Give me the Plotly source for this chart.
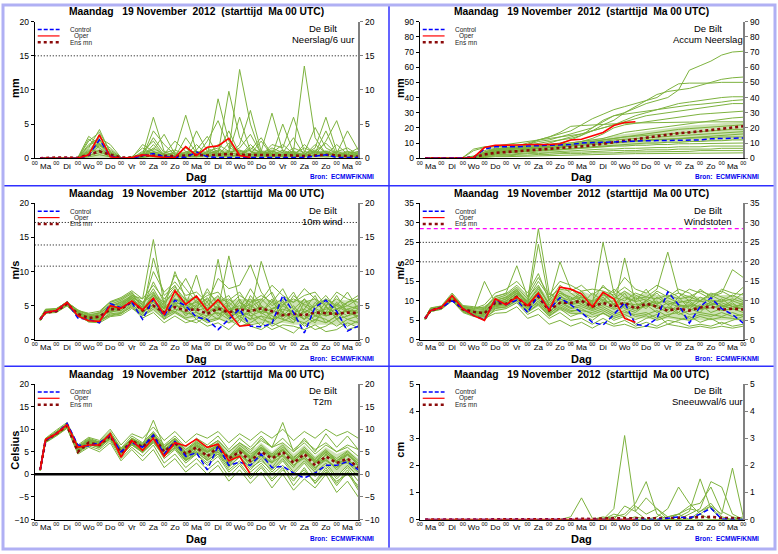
import plotly.graph_objects as go

W, H = 778, 554
FONT = "Liberation Sans, Arial, sans-serif"

# ---------------- time axis (hours after Ma 19 Nov 2012 00 UTC) ----------------
T = [6, 12, 24, 36, 48, 60, 72, 84, 96, 108, 120, 132, 144, 156, 168, 180, 192, 204, 216,
     228, 240, 252, 264, 276, 288, 300, 312, 324, 336, 348, 360]
T_OPER = [6, 12, 24, 36, 48, 60, 72, 84, 96, 108, 120, 132, 144, 156, 168, 180, 192, 204, 216, 228, 240]
DAY_TICKS = [12, 36, 60, 84, 108, 132, 156, 180, 204, 228, 252, 276, 300, 324, 348]
DAY_LABELS = ["Ma", "Di", "Wo", "Do", "Vr", "Za", "Zo", "Ma", "Di", "Wo", "Do", "Vr", "Za", "Zo", "Ma"]
HOUR_TICKS = [0, 24, 48, 72, 96, 120, 144, 168, 192, 216, 240, 264, 288, 312, 336, 360]
HOUR_LABELS = ["00"] * 16
TITLE = "Maandag&#160;&#160; 19 November&#160; 2012&#160; (starttijd&#160; Ma 00 UTC)"

# ---------------- Neerslag / 6 uur (mm) ----------------
PR6_CTRL = [0, 0, 0.05, 0.05, 0, 0.4, 2.7, 0.3, 0, 0, 0.3, 0.7, 0.2, 0.1, 0.1, 0.9, 0.2, 0.1, 0.1,
            0.1, 0.1, 0, 0.1, 0.1, 0.1, 0.1, 0.3, 0.5, 0.1, 0.1, 0.1]
PR6_OPER = [0, 0, 0, 0, 0, 0.5, 3.4, 0.2, 0, 0.1, 0.5, 0.3, 0.1, 0.1, 1.7, 0.4, 1.6, 1.8, 2.9, 0.4, 0.1]
PR6_MEAN = [0, 0.05, 0.1, 0.1, 0.05, 0.5, 1.0, 0.5, 0.1, 0.1, 0.4, 0.4, 0.3, 0.3, 0.4, 0.5, 0.4,
            0.5, 0.6, 0.5, 0.5, 0.5, 0.5, 0.4, 0.4, 0.3, 0.4, 0.5, 0.4, 0.3, 0.2]
PR6_CORE_LO = [0] * 31
PR6_CORE_HI = [0, 0, 0.1, 0.1, 0.1, 1.5, 2.8, 1.0, 0.1, 0.1, 0.8, 1.5, 0.8, 0.8, 1.0, 1.0, 1.0, 1.2,
               1.2, 1.2, 1.2, 1.2, 1.0, 1.0, 1.0, 1.0, 1.0, 1.2, 1.0, 1.0, 0.8]
PR6_MEMBERS = [
    [0, 0, 0.1, 0, 0.1, 3.2, 2.0, 0.3, 0, 0, 1.0, 2.5, 0.4, 0.2, 1.5, 0.3, 0.5, 2.0, 1.0, 13.0, 5.0, 0.5, 1.2, 0.3, 0.8, 0.4, 1.0, 2.2, 0.6, 0.3, 0.5],
    [0, 0, 0, 0.1, 0, 2.5, 3.8, 1.0, 0, 0.1, 0.5, 6.0, 1.0, 0.3, 0.4, 0.2, 1.0, 0.6, 9.8, 3.0, 1.0, 0.3, 0.8, 2.0, 0.6, 1.5, 0.8, 1.0, 0.4, 1.0, 0.6],
    [0, 0.1, 0.1, 0, 0, 1.5, 4.2, 0.8, 0, 0, 2.0, 1.0, 0.3, 1.0, 6.3, 1.0, 0.4, 8.7, 2.5, 0.5, 1.5, 0.8, 0.3, 0.5, 1.0, 13.5, 3.0, 0.6, 0.3, 0.4, 0.2],
    [0, 0, 0, 0, 0, 2.0, 3.0, 2.0, 0.1, 0, 0.3, 4.0, 2.0, 0.5, 0.2, 4.0, 1.0, 1.5, 0.4, 2.0, 7.0, 1.0, 6.6, 1.0, 0.3, 0.6, 1.5, 6.0, 1.0, 0.5, 1.0],
    [0, 0, 0.1, 0, 0, 0.8, 2.5, 1.5, 0, 0, 0.4, 3.0, 0.8, 1.2, 0.5, 0.3, 2.5, 5.5, 1.5, 1.0, 0.6, 0.4, 2.0, 1.5, 6.0, 1.0, 0.5, 2.5, 5.5, 1.0, 0.3],
    [0, 0, 0, 0, 0.1, 1.0, 2.2, 0.5, 0, 0.2, 1.5, 0.6, 0.2, 0.4, 0.9, 1.0, 0.6, 1.0, 4.0, 0.6, 1.2, 3.0, 0.5, 0.4, 1.5, 0.8, 4.5, 1.5, 0.7, 4.0, 1.2],
    [0, 0, 0, 0.1, 0, 0.5, 1.8, 1.2, 0.1, 0, 0.2, 1.5, 0.5, 0.1, 3.0, 0.8, 0.2, 0.5, 0.8, 6.0, 1.0, 0.5, 0.4, 5.0, 0.8, 0.3, 1.0, 0.5, 2.0, 0.6, 1.5],
    [0, 0, 0, 0, 0, 0.3, 1.2, 0.4, 0, 0, 0.3, 0.2, 0.1, 0.3, 0.2, 1.2, 3.2, 0.4, 2.2, 0.4, 0.5, 1.0, 0.6, 0.3, 0.4, 2.0, 0.6, 1.0, 0.5, 0.3, 0.8],
    [0, 0, 0.1, 0, 0, 1.8, 2.8, 0.6, 0, 0, 0.8, 1.2, 3.5, 0.6, 0.3, 0.5, 0.8, 0.3, 0.6, 1.5, 3.5, 0.6, 1.5, 0.8, 3.0, 0.4, 0.8, 4.0, 0.5, 0.2, 0.4],
    [0, 0, 0, 0, 0, 0.6, 3.5, 0.3, 0, 0, 0.1, 0.4, 0.6, 2.5, 1.0, 0.4, 0.3, 0.8, 0.3, 0.5, 0.6, 2.5, 0.4, 1.2, 0.5, 0.6, 1.2, 0.4, 1.0, 1.5, 0.5],
    [0, 0, 0, 0, 0, 1.2, 1.0, 0.2, 0, 0.1, 0.6, 0.8, 0.2, 0.2, 0.6, 0.6, 1.5, 0.6, 1.0, 0.3, 0.4, 0.6, 1.0, 0.5, 0.6, 0.3, 0.5, 0.8, 0.4, 0.6, 0.3],
    [0, 0, 0, 0, 0, 0.4, 0.8, 0.6, 0, 0, 0.3, 0.5, 0.4, 0.8, 0.4, 2.0, 0.5, 0.4, 0.6, 0.8, 0.3, 0.4, 0.6, 0.8, 0.3, 0.5, 0.3, 0.6, 0.8, 0.4, 0.6],
    [0, 0, 0, 0, 0, 0.2, 0.5, 0.2, 0, 0, 0.1, 0.3, 0.2, 0.2, 0.3, 0.2, 0.4, 0.3, 0.2, 0.4, 0.2, 0.3, 0.2, 0.4, 0.2, 0.3, 0.4, 0.2, 0.3, 0.2, 0.2],
    [0, 0, 0, 0, 0, 2.8, 1.5, 0.4, 0, 0, 0.2, 2.0, 0.3, 0.1, 0.8, 0.4, 0.6, 1.2, 0.5, 0.3, 2.0, 0.5, 0.3, 0.6, 1.0, 0.4, 2.0, 0.8, 0.3, 0.5, 0.4],
    [0, 0, 0, 0, 0, 0.9, 2.0, 0.8, 0.1, 0, 0.6, 0.9, 0.6, 0.4, 0.6, 0.8, 0.3, 0.6, 0.9, 1.2, 0.5, 0.8, 0.6, 0.2, 0.8, 0.6, 0.3, 0.6, 0.4, 0.8, 0.9],
]
PR6_THRESH = [15]

# ---------------- Accum Neerslag (mm) ----------------
ACC_CTRL = [0, 0, 0, 0, 0, 0.4, 6.0, 7.5, 7.5, 7.5, 8, 8.2, 8.5, 8.7, 9, 10, 10.3, 10.5, 10.8, 11,
            11.2, 11.5, 11.6, 11.7, 11.8, 11.9, 12, 12.8, 13, 13.2, 13.3]
ACC_OPER = [0, 0, 0, 0, 0, 0.5, 7.0, 8.5, 8.5, 8.7, 9, 9, 9, 9.5, 12, 12.5, 15, 17, 21.5, 23.5, 24]
ACC_MEAN = [0, 0, 0, 0, 0, 0.5, 2.5, 3.5, 4, 4.3, 5, 5.5, 6, 6.5, 7, 7.8, 8.5, 9.5, 10.5, 11.5,
            12.5, 13.5, 14.5, 15.5, 16.5, 17, 17.8, 18.5, 19.5, 20.3, 21]
ACC_CORE_LO = [0, 0, 0, 0, 0, 0.2, 1.5, 2.5, 3, 3.2, 3.5, 4, 4.5, 5, 5.5, 6, 6.5, 7, 7.5, 8, 8.5, 9,
               9.5, 10, 10, 10.5, 11, 11, 11.5, 12, 12]
ACC_CORE_HI = [0, 0, 0, 0, 0, 1, 4, 6, 6.5, 7, 7.5, 8, 8.5, 9.5, 10.5, 11.5, 12.5, 13.5, 15, 16, 17,
               18, 19, 20, 21, 21.5, 22, 22.5, 23, 23.5, 24]
ACC_MEMBERS = [
    [0, 0, 0, 0, 0, 1.5, 5, 6.5, 7, 7.5, 8.5, 10, 11, 12, 13, 15, 18, 22, 25, 30, 33, 36, 38, 40, 45, 58, 61, 64, 68, 70, 70.5],
    [0, 0, 0, 0, 0, 0.5, 3, 5, 6, 7, 9, 11, 12, 14, 16, 18, 20, 24, 28, 30, 34, 38, 42, 44, 45, 46, 48, 50, 52, 53, 53.5],
    [0, 0, 0, 0, 0, 1, 4, 6, 7, 8, 10, 12, 14, 16, 18, 22, 26, 29, 32, 34, 36, 38, 40, 45, 49, 49.5, 49.5, 49.5, 50, 50, 50],
    [0, 0, 0, 0, 0.5, 6, 7.5, 8, 9, 10, 11, 12, 13, 14, 15, 16, 18, 20, 22, 25, 28, 30, 32, 34, 36, 37, 38, 39, 40, 40.5, 40.5],
    [0, 0, 0, 0, 0, 1, 3, 5, 5.5, 6, 7, 8, 9, 10, 12, 15, 20, 25, 28, 29, 30, 31, 32, 33, 34, 35, 35.5, 36, 37, 38, 38.5],
    [0, 0, 0, 0, 0, 0.5, 2, 4, 4.5, 5, 6, 8, 10, 12, 14, 16, 18, 20, 22, 24, 26, 28, 29, 30, 31, 32, 33, 34, 35, 36, 36],
    [0, 0, 0, 0, 0, 1, 4, 6, 6.5, 7, 8, 8.5, 9, 9.5, 10, 11, 13, 16, 20, 22, 23, 24, 25, 26, 27, 28, 29, 29.5, 30, 30.5, 31],
    [0, 0, 0, 0, 0, 0.5, 3, 5, 5.5, 6, 6.5, 7, 8, 9, 10, 11, 12, 13, 15, 17, 18, 19, 20, 21, 22, 23, 24, 25, 26, 26.5, 27],
    [0, 0, 0, 0, 0.3, 5, 7, 7.5, 8, 8.5, 9, 12, 14, 17, 21, 21.5, 22, 22.5, 23, 23, 23.2, 23.4, 23.5, 23.6, 23.7, 23.8, 23.9, 24, 24, 24, 24],
    [0, 0, 0, 0, 0, 0.5, 2.5, 4, 4.5, 5, 5.5, 6.5, 7, 8, 9, 10, 11, 12, 13, 14, 15, 16, 17, 18, 19, 19.5, 20, 20.5, 21, 21.5, 22],
    [0, 0, 0, 0, 0, 1, 3.5, 5.5, 6, 6.5, 7, 7.5, 8, 8.5, 9, 10, 11, 12, 13, 14, 14.5, 15, 15.5, 16, 16.5, 17, 17.5, 18, 18.5, 19, 19],
    [0, 0, 0, 0, 0, 0.3, 2, 3.5, 4, 4.5, 5, 5.5, 6, 7, 8, 9, 10, 11, 12, 12.5, 13, 13.5, 14, 14.5, 15, 15.5, 16, 16.5, 17, 17.5, 17.5],
    [0, 0, 0, 0, 0, 0.5, 3, 4.5, 5, 5.5, 6, 6.5, 7, 7.5, 8, 8.5, 9, 9.5, 10, 10.5, 11, 11.5, 12, 12.5, 13, 13.5, 14, 14.5, 15, 15.5, 16],
    [0, 0, 0, 0, 0, 1, 4, 6, 6, 6.5, 7, 7.5, 8, 8.5, 9, 9.5, 10, 10.5, 11, 11.5, 12, 12, 12.5, 12.5, 13, 13, 13.5, 13.5, 14, 14, 14],
    [0, 0, 0, 0, 0, 0.2, 1.5, 3, 3.5, 4, 4.5, 5, 5.5, 6, 6.5, 7, 7.5, 8, 8.5, 9, 9.5, 10, 10, 10.5, 10.5, 11, 11, 11.5, 11.5, 12, 12],
    [0, 0, 0, 0, 0, 0.5, 2, 3.5, 3.5, 4, 4.5, 5, 5, 5.5, 6, 6.5, 7, 7.5, 8, 8, 8.5, 8.5, 9, 9, 9.5, 9.5, 9.5, 10, 10, 10, 10],
    [0, 0, 0, 0, 0, 0.3, 1.5, 2.5, 2.5, 3, 3.5, 4, 4, 4.5, 5, 5, 5.5, 6, 6, 6.5, 6.5, 7, 7, 7, 7.5, 7.5, 7.5, 8, 8, 8, 8],
    [0, 0, 0, 0, 0, 0.2, 1, 2, 2, 2.5, 3, 3, 3.5, 3.5, 4, 4, 4.5, 4.5, 5, 5, 5, 5.5, 5.5, 5.5, 6, 6, 6, 6, 6.5, 6.5, 6.5],
    [0, 0, 0, 0, 0, 0.1, 0.8, 1.5, 1.5, 2, 2, 2.5, 2.5, 3, 3, 3, 3.5, 3.5, 3.5, 4, 4, 4, 4.5, 4.5, 4.5, 4.5, 5, 5, 5, 5, 5],
    [0, 0, 0, 0, 0, 0.1, 0.5, 1, 1, 1.2, 1.5, 1.5, 1.8, 2, 2, 2.2, 2.4, 2.5, 2.6, 2.8, 3, 3, 3.1, 3.2, 3.3, 3.3, 3.4, 3.4, 3.5, 3.5, 3.5],
]

# ---------------- 10m wind (m/s) ----------------
WND_CTRL = [3.0, 4.0, 4.3, 5.5, 3.2, 3.0, 2.5, 5.3, 4.7, 5.5, 3.0, 6.0, 3.5, 5.8, 5.0, 3.3, 3.0, 1.5, 3.0,
            4.5, 2.0, 1.9, 2.4, 6.5, 4.0, 1.0, 4.8, 5.8, 4.2, 1.3, 2.0]
WND_OPER = [3.0, 4.0, 4.3, 5.5, 3.5, 2.8, 2.7, 5.0, 4.6, 5.7, 4.4, 6.1, 3.7, 7.2, 5.2, 6.4, 4.3, 5.9, 4.0, 2.0, 2.2]
WND_MEAN = [3.0, 4.0, 4.2, 5.3, 3.8, 3.2, 3.4, 4.5, 4.5, 5.6, 4.3, 5.0, 4.0, 4.8, 4.3, 4.5, 3.8, 4.6, 4.0,
            4.5, 4.2, 4.6, 4.2, 3.6, 3.8, 3.6, 4.0, 3.9, 3.8, 4.0, 3.9]
WND_CORE_LO = [2.8, 3.9, 4.0, 5.0, 3.5, 2.7, 2.6, 3.6, 3.8, 4.8, 3.5, 4.2, 3.0, 3.8, 3.0, 3.2, 2.6, 3.0,
               2.4, 2.8, 2.4, 2.5, 2.2, 2.5, 2.2, 2.2, 2.3, 2.2, 2.3, 2.2, 2.2]
WND_CORE_HI = [3.2, 4.5, 4.6, 5.6, 4.3, 3.8, 4.2, 5.6, 6.2, 7.0, 5.6, 7.2, 5.6, 7.0, 6.2, 6.2, 5.8, 6.4,
               5.8, 6.0, 6.0, 6.0, 5.8, 5.8, 5.8, 5.8, 5.8, 5.6, 5.8, 5.8, 5.6]
WND_MEMBERS = [
    [3.0, 4.2, 4.4, 5.4, 4.0, 3.3, 3.0, 4.5, 5.0, 6.5, 6.0, 14.7, 5.0, 4.0, 6.0, 4.5, 7.5, 5.0, 3.5, 4.5, 6.0, 4.0, 3.0, 5.0, 4.0, 3.0, 4.5, 6.0, 5.0, 4.0, 3.5],
    [2.9, 4.0, 4.3, 5.2, 3.6, 3.0, 3.5, 5.0, 4.2, 5.8, 4.0, 12.0, 6.5, 8.0, 5.0, 9.5, 4.0, 3.0, 5.5, 4.0, 3.0, 5.5, 7.0, 4.0, 2.5, 4.5, 6.5, 3.5, 4.0, 5.5, 6.0],
    [3.1, 4.4, 4.5, 5.6, 4.2, 3.8, 3.2, 4.2, 4.8, 6.2, 5.5, 7.0, 4.5, 10.0, 6.0, 4.0, 3.5, 11.8, 4.0, 6.0, 3.5, 2.0, 4.5, 5.5, 3.5, 6.0, 4.5, 2.5, 3.5, 4.5, 3.0],
    [2.8, 3.9, 4.1, 5.0, 3.4, 2.7, 2.8, 3.8, 4.0, 5.2, 3.8, 6.0, 3.0, 5.5, 3.5, 5.0, 6.0, 4.5, 12.3, 5.5, 4.0, 11.5, 6.5, 3.5, 5.0, 3.0, 5.5, 4.0, 6.5, 4.0, 5.0],
    [3.0, 4.1, 4.2, 5.3, 3.9, 3.5, 4.0, 5.5, 6.0, 7.0, 4.5, 5.5, 4.0, 6.5, 9.0, 6.0, 5.0, 6.5, 3.5, 2.5, 5.0, 4.0, 5.5, 7.5, 4.5, 3.5, 2.5, 5.0, 3.0, 3.5, 4.5],
    [3.2, 4.5, 4.6, 5.5, 4.4, 3.6, 3.4, 4.8, 5.5, 6.0, 4.8, 8.5, 5.5, 7.0, 4.5, 3.0, 4.5, 5.5, 6.0, 4.5, 7.5, 5.0, 3.0, 4.0, 6.5, 5.0, 4.0, 4.5, 5.0, 7.0, 4.5],
    [2.9, 4.0, 4.2, 5.2, 3.8, 2.9, 3.0, 3.5, 3.8, 5.0, 3.5, 4.5, 3.0, 4.0, 3.0, 2.5, 3.5, 4.0, 3.0, 2.0, 2.5, 3.5, 2.0, 2.8, 3.5, 2.0, 3.0, 2.5, 3.5, 2.0, 2.8],
    [3.0, 4.3, 4.4, 5.5, 4.1, 3.4, 3.8, 5.2, 5.8, 6.8, 5.5, 6.5, 5.5, 9.5, 7.5, 5.5, 6.5, 7.0, 5.0, 6.5, 5.5, 6.0, 4.5, 5.0, 7.0, 4.0, 5.0, 6.5, 4.5, 5.5, 6.5],
    [3.1, 4.2, 4.3, 5.4, 4.0, 3.2, 2.6, 4.0, 4.5, 5.5, 4.2, 5.0, 3.5, 4.5, 4.0, 3.5, 2.5, 3.0, 4.5, 3.5, 4.0, 3.0, 2.5, 4.0, 3.0, 2.5, 3.5, 3.0, 2.0, 3.0, 2.5],
    [2.9, 4.0, 4.1, 5.1, 3.7, 3.1, 3.6, 4.6, 5.2, 6.3, 5.2, 7.5, 4.8, 6.0, 5.5, 6.5, 4.0, 5.0, 4.0, 5.5, 4.5, 4.0, 6.0, 3.0, 4.5, 6.0, 3.5, 5.5, 4.5, 3.5, 4.0],
    [3.0, 4.1, 4.3, 5.3, 3.8, 3.0, 3.3, 4.3, 4.6, 5.8, 4.3, 5.8, 4.2, 5.0, 4.8, 4.5, 5.5, 3.5, 5.0, 3.0, 6.5, 4.5, 3.5, 3.0, 2.5, 5.5, 6.0, 3.5, 5.5, 4.0, 3.5],
    [3.1, 4.3, 4.4, 5.5, 4.3, 3.7, 3.9, 5.0, 5.3, 6.6, 5.0, 10.0, 7.0, 8.5, 6.5, 7.0, 5.5, 9.0, 7.5, 8.0, 11.0, 7.0, 5.0, 6.0, 5.5, 7.5, 6.0, 5.0, 7.0, 6.0, 5.5],
    [2.8, 3.9, 4.0, 5.0, 3.5, 2.8, 2.7, 3.6, 3.9, 4.8, 3.2, 4.0, 2.5, 3.5, 2.5, 3.0, 2.0, 2.5, 1.5, 3.0, 2.0, 1.5, 2.5, 1.8, 1.0, 2.5, 1.5, 2.0, 3.0, 1.5, 2.0],
    [3.0, 4.2, 4.4, 5.4, 4.0, 3.5, 3.6, 4.4, 4.8, 6.0, 4.5, 6.5, 4.5, 6.0, 5.0, 5.5, 4.5, 6.0, 4.5, 5.0, 4.0, 5.0, 4.0, 4.5, 4.0, 4.5, 3.5, 4.0, 4.5, 5.0, 4.5],
    [3.2, 4.4, 4.5, 5.6, 4.2, 3.2, 3.1, 4.9, 5.6, 6.4, 4.0, 5.2, 3.8, 5.2, 3.8, 4.0, 3.0, 4.5, 3.5, 4.0, 3.0, 3.5, 3.0, 3.5, 4.0, 3.0, 4.0, 3.5, 4.0, 3.0, 3.5],
    [2.9, 4.1, 4.2, 5.2, 3.9, 3.3, 3.4, 4.1, 4.3, 5.4, 4.6, 6.2, 5.2, 7.5, 4.2, 5.2, 7.0, 5.5, 6.5, 3.8, 5.5, 6.5, 5.5, 4.0, 3.0, 4.0, 5.0, 6.0, 3.0, 4.5, 5.0],
    [3.0, 4.0, 4.2, 5.3, 3.7, 2.6, 2.5, 3.4, 3.6, 4.6, 3.6, 4.8, 3.4, 4.2, 3.2, 3.6, 2.8, 3.2, 2.5, 3.5, 2.2, 2.5, 1.5, 2.2, 2.0, 1.5, 2.2, 1.2, 1.5, 2.5, 1.8],
    [3.1, 4.3, 4.5, 5.5, 4.3, 3.9, 4.2, 5.6, 6.2, 7.2, 6.0, 8.0, 6.0, 7.8, 5.8, 4.8, 6.2, 4.2, 5.8, 7.0, 4.8, 5.8, 8.0, 6.5, 5.5, 6.5, 7.0, 5.0, 6.0, 5.0, 6.0],
    [3.0, 4.2, 4.3, 5.4, 4.1, 3.4, 3.0, 4.7, 5.0, 6.1, 4.4, 6.8, 4.0, 5.8, 4.5, 5.8, 3.8, 4.8, 3.2, 4.2, 3.5, 4.2, 3.8, 5.8, 3.2, 4.2, 2.8, 4.8, 3.8, 4.2, 4.0],
    [2.9, 4.1, 4.2, 5.1, 3.8, 3.1, 3.5, 4.5, 4.7, 5.6, 4.8, 5.6, 4.6, 5.4, 5.2, 4.2, 4.8, 3.8, 4.4, 4.6, 5.2, 3.8, 4.6, 5.2, 6.0, 5.2, 4.6, 3.8, 5.2, 4.4, 4.2],
]
WND_THRESH = [10.8, 13.9, 17.2]

# ---------------- Windstoten (m/s) ----------------
GST_CTRL = [5.5, 7.5, 8.3, 10.0, 8.0, 6.2, 5.2, 10.2, 9.0, 10.2, 7.0, 11.5, 7.8, 10.8, 9.0, 7.0, 4.5, 3.8,
            6.5, 9.5, 4.0, 3.5, 5.5, 12.3, 9.0, 4.3, 8.5, 10.8, 8.0, 6.5, 4.3]
GST_OPER = [5.5, 7.5, 8.3, 11.3, 8.0, 6.2, 5.0, 10.5, 9.0, 11.0, 8.8, 12.0, 7.5, 13.5, 13.0, 11.8, 8.5, 12.2, 10.5, 5.5, 4.5]
GST_MEAN = [5.5, 7.5, 8.3, 10.5, 7.8, 7.2, 6.8, 9.5, 9.2, 11.0, 8.5, 11.0, 7.5, 9.5, 9.5, 10.0, 8.5, 9.5,
            8.5, 9.5, 8.0, 9.3, 8.5, 7.5, 8.0, 7.5, 8.3, 8.5, 7.7, 8.0, 7.8]
GST_CORE_LO = [5.2, 7.3, 7.9, 10.1, 7.2, 6.2, 5.8, 7.5, 8.0, 9.5, 7.0, 8.5, 6.0, 7.5, 6.5, 6.5, 6.0, 6.5,
               5.5, 6.0, 5.5, 5.5, 5.0, 5.5, 5.0, 5.0, 5.0, 5.0, 5.0, 5.0, 5.0]
GST_CORE_HI = [5.7, 8.2, 8.7, 11.8, 8.8, 8.5, 8.5, 11.0, 11.5, 13.5, 11.0, 14.0, 10.5, 13.0, 12.0, 12.5,
               11.5, 12.5, 11.5, 12.5, 11.5, 12.0, 11.5, 11.5, 11.0, 11.5, 11.0, 11.0, 11.5, 11.5, 11.0]
GST_MEMBERS = [
    [5.5, 7.8, 8.3, 11.0, 8.0, 7.0, 6.5, 9.0, 10.0, 12.0, 10.0, 28.5, 12.0, 10.0, 9.0, 11.0, 8.0, 10.0, 9.0, 12.0, 8.0, 10.0, 8.5, 7.0, 9.0, 8.0, 10.0, 9.0, 7.5, 8.0, 7.0],
    [5.3, 7.5, 8.0, 10.5, 7.5, 6.5, 7.0, 10.0, 11.0, 13.0, 9.0, 24.5, 10.0, 14.0, 12.0, 10.0, 9.0, 25.0, 12.0, 8.0, 7.0, 9.0, 10.0, 7.5, 11.0, 8.0, 7.0, 10.0, 9.0, 8.0, 9.5],
    [5.6, 8.0, 8.5, 11.5, 8.5, 8.0, 9.0, 12.0, 13.0, 15.0, 12.0, 17.0, 10.0, 20.0, 13.0, 11.0, 10.0, 14.0, 11.0, 10.0, 12.0, 11.0, 13.0, 22.5, 12.0, 10.0, 13.0, 11.0, 12.0, 18.0, 16.0],
    [5.4, 7.6, 8.2, 10.8, 7.8, 6.8, 5.0, 8.0, 8.5, 10.0, 7.0, 9.0, 6.0, 8.0, 6.0, 7.0, 5.0, 7.0, 5.0, 6.0, 4.0, 5.5, 6.5, 4.0, 5.0, 6.0, 4.5, 5.5, 4.0, 5.0, 6.0],
    [5.5, 7.8, 8.4, 11.2, 8.2, 7.5, 15.0, 9.5, 10.5, 12.5, 9.5, 12.0, 8.5, 11.0, 10.0, 12.5, 9.0, 11.0, 8.0, 21.0, 9.5, 8.0, 11.0, 9.0, 7.0, 10.0, 8.0, 9.0, 10.5, 8.5, 8.0],
    [5.2, 7.2, 7.9, 10.2, 7.2, 6.2, 5.8, 7.5, 8.0, 9.5, 6.5, 8.0, 5.5, 7.0, 5.0, 5.5, 4.0, 5.5, 4.0, 5.0, 3.5, 4.5, 3.5, 5.0, 4.5, 3.5, 4.0, 3.5, 4.5, 3.5, 4.0],
    [5.7, 8.2, 8.7, 12.0, 8.8, 8.5, 8.0, 11.0, 12.0, 19.0, 11.0, 14.0, 9.0, 12.0, 11.0, 9.0, 12.0, 10.0, 13.0, 11.0, 10.0, 13.0, 9.0, 11.0, 13.0, 12.0, 10.0, 12.0, 11.0, 10.0, 12.0],
    [5.5, 7.7, 8.3, 11.0, 8.0, 7.2, 7.5, 9.8, 9.5, 11.5, 8.0, 10.5, 7.0, 9.5, 8.0, 8.5, 7.5, 8.5, 7.0, 8.5, 7.5, 9.0, 7.0, 8.5, 6.5, 7.5, 9.0, 7.0, 8.0, 9.5, 7.5],
    [5.4, 7.6, 8.1, 10.6, 7.6, 6.6, 6.8, 9.0, 9.2, 11.0, 8.6, 11.5, 7.8, 10.5, 9.5, 10.5, 8.5, 9.5, 10.0, 9.0, 11.0, 8.5, 9.5, 10.0, 9.0, 8.5, 11.0, 9.5, 8.5, 10.0, 9.0],
    [5.6, 7.9, 8.5, 11.3, 8.3, 7.8, 8.5, 10.5, 11.5, 13.5, 10.5, 15.0, 11.0, 13.0, 12.5, 14.0, 11.5, 13.5, 12.0, 16.0, 13.0, 12.0, 14.0, 12.5, 11.0, 13.0, 12.0, 10.5, 13.0, 12.0, 11.5],
    [5.3, 7.4, 8.0, 10.4, 7.4, 6.4, 6.2, 8.5, 8.8, 10.5, 8.0, 9.5, 6.8, 8.5, 7.2, 8.0, 6.5, 7.5, 6.0, 7.0, 6.5, 7.0, 5.5, 6.5, 7.0, 5.5, 6.5, 6.0, 7.0, 6.0, 6.5],
    [5.5, 7.8, 8.3, 11.1, 8.1, 7.0, 7.0, 9.2, 10.0, 11.8, 9.2, 12.5, 8.2, 11.5, 9.0, 9.5, 8.0, 12.0, 9.0, 9.5, 8.5, 10.0, 12.0, 9.0, 10.0, 9.5, 8.0, 9.0, 9.5, 8.5, 9.0],
    [5.2, 7.3, 7.8, 10.0, 7.0, 6.0, 5.5, 6.8, 7.0, 8.5, 5.5, 6.5, 4.0, 5.0, 3.5, 4.5, 3.0, 4.5, 3.5, 4.0, 3.0, 3.5, 3.0, 4.0, 3.5, 3.0, 3.5, 3.0, 3.5, 3.0, 3.5],
    [5.6, 8.0, 8.4, 11.4, 8.4, 7.6, 7.8, 10.2, 10.8, 12.8, 9.8, 13.0, 9.5, 12.5, 10.5, 11.5, 9.5, 11.5, 10.5, 12.5, 10.5, 11.0, 10.5, 11.5, 10.5, 11.0, 10.0, 11.5, 10.0, 11.5, 10.0],
    [5.4, 7.6, 8.2, 10.8, 7.8, 6.9, 6.5, 8.8, 9.0, 10.8, 7.5, 10.0, 6.5, 9.0, 7.5, 7.5, 7.0, 8.0, 6.5, 7.5, 6.0, 6.5, 7.5, 6.0, 8.0, 6.5, 7.0, 6.5, 6.0, 7.0, 6.0],
    [5.5, 7.7, 8.3, 11.0, 8.0, 7.3, 7.2, 9.5, 9.8, 12.0, 9.0, 12.0, 8.0, 10.5, 9.0, 10.0, 8.5, 10.5, 8.5, 9.5, 9.0, 9.5, 8.0, 9.5, 8.5, 9.0, 8.5, 9.5, 8.5, 9.0, 8.5],
    [5.3, 7.5, 8.0, 10.3, 7.3, 6.3, 6.0, 8.2, 8.4, 10.2, 7.2, 9.2, 6.2, 8.2, 6.8, 6.8, 5.8, 6.8, 5.5, 6.5, 5.2, 6.2, 5.0, 6.0, 5.5, 5.0, 6.0, 5.2, 5.8, 5.5, 5.0],
    [5.6, 8.1, 8.6, 11.6, 8.6, 8.2, 8.2, 11.2, 11.8, 14.0, 11.2, 16.0, 11.5, 15.0, 14.0, 12.5, 13.0, 12.5, 11.5, 13.5, 11.5, 10.0, 12.5, 11.0, 12.0, 11.0, 12.5, 11.5, 12.5, 11.0, 13.5],
    [5.4, 7.6, 8.1, 10.7, 7.7, 6.7, 6.6, 8.7, 9.3, 11.3, 8.3, 11.0, 7.3, 9.8, 8.3, 9.0, 7.8, 9.0, 7.8, 8.8, 8.0, 8.8, 8.8, 8.2, 7.8, 8.8, 7.8, 8.2, 8.8, 7.8, 8.2],
    [5.5, 7.8, 8.3, 11.1, 8.1, 7.1, 7.4, 9.6, 10.4, 12.4, 9.6, 13.5, 8.8, 12.0, 10.2, 11.0, 9.8, 11.8, 9.2, 10.8, 9.8, 10.5, 9.2, 10.8, 9.5, 10.2, 9.8, 10.2, 9.8, 10.5, 9.6],
]
GST_THRESH = [20, 25]
GST_WARN = [28.5]

# ---------------- T2m (Celsius) ----------------
T2M_CTRL = [1.0, 7.5, 9.0, 11.3, 6.5, 6.3, 7.0, 8.7, 5.0, 7.0, 6.0, 8.7, 4.5, 7.3, 4.0, 4.8, 1.0, 6.3,
            2.0, 2.7, 2.0, 4.5, 1.5, 1.8, 0.3, -0.8, 0.3, 2.0, 2.0, 2.8, 1.0]
T2M_OPER = [1.0, 7.7, 9.0, 11.0, 6.0, 6.5, 6.5, 9.0, 3.8, 7.5, 5.3, 8.0, 4.0, 7.0, 6.3, 7.8, 6.0, 6.7, 3.0, 4.0, 0.0]
T2M_MEAN = [1.0, 7.5, 9.0, 10.8, 5.0, 7.0, 6.5, 8.5, 4.8, 7.5, 6.0, 8.5, 5.0, 7.0, 4.5, 6.0, 4.0, 6.0,
            3.5, 5.0, 3.0, 5.0, 3.5, 5.0, 2.5, 4.5, 2.0, 4.0, 2.5, 3.5, 1.5]
T2M_CORE_LO = [0.9, 7.2, 8.7, 10.4, 5.0, 6.5, 6.0, 7.8, 4.0, 6.5, 5.0, 7.2, 4.0, 6.0, 3.0, 4.8, 3.0, 4.5,
               1.8, 3.8, 1.5, 3.5, 1.0, 3.0, 0.5, 2.5, 0.0, 2.0, 0.0, 1.5, -0.5]
T2M_CORE_HI = [1.1, 7.8, 9.4, 11.2, 6.0, 7.8, 7.0, 9.2, 5.5, 8.2, 6.8, 9.2, 6.0, 8.0, 5.5, 7.5, 6.0, 7.5,
               5.0, 7.0, 5.0, 7.0, 5.0, 7.0, 4.5, 6.5, 4.0, 6.0, 4.5, 5.5, 3.5]
T2M_MEMBERS = [
    [1.2, 8.0, 9.8, 11.5, 6.5, 8.2, 7.5, 10.0, 6.5, 9.0, 8.0, 10.5, 7.5, 9.5, 7.0, 9.0, 8.0, 9.5, 7.0, 9.0, 7.5, 9.5, 8.0, 10.0, 7.5, 9.5, 8.0, 10.0, 8.5, 9.5, 8.0],
    [1.0, 7.8, 9.5, 11.2, 6.0, 7.8, 7.0, 9.2, 5.5, 8.0, 6.5, 12.0, 6.0, 8.0, 5.5, 7.0, 6.0, 7.5, 5.0, 7.0, 5.0, 8.0, 6.0, 11.5, 5.0, 8.0, 5.0, 9.0, 6.0, 8.5, 5.5],
    [0.8, 7.0, 8.5, 10.2, 4.5, 6.0, 5.0, 7.0, 3.0, 5.5, 3.0, 5.5, 1.5, 3.5, 0.5, 2.5, 0.0, 2.0, -1.5, 1.0, -2.0, 0.5, -3.0, 0.0, -3.5, -1.0, -3.0, 0.0, -4.0, -1.5, -5.0],
    [1.0, 7.4, 8.9, 10.6, 5.2, 6.8, 6.0, 8.0, 4.0, 6.8, 4.8, 7.5, 3.5, 5.5, 2.5, 4.5, 2.0, 4.0, 0.5, 2.5, -0.5, 2.0, -1.0, 1.5, -2.5, 0.5, -1.5, 1.5, -2.0, 1.0, -3.0],
    [1.1, 7.6, 9.2, 11.0, 5.8, 7.5, 7.0, 8.8, 5.2, 7.8, 6.3, 9.0, 6.0, 7.8, 5.0, 7.2, 5.5, 7.0, 4.0, 6.5, 4.5, 6.0, 4.5, 6.5, 3.5, 6.0, 3.5, 5.5, 3.0, 5.0, 2.5],
    [0.9, 7.2, 8.7, 10.4, 5.0, 6.5, 6.2, 8.0, 4.5, 7.0, 5.0, 8.0, 4.0, 6.0, 3.0, 5.0, 3.0, 5.0, 1.5, 4.0, 1.0, 3.5, 0.5, 3.0, 0.0, 2.5, -0.5, 2.0, -1.0, 1.5, -1.5],
    [1.0, 7.5, 9.0, 10.9, 5.6, 7.3, 6.6, 8.6, 5.0, 7.5, 6.0, 8.6, 5.5, 7.5, 4.8, 6.8, 5.2, 6.5, 3.8, 6.0, 4.0, 6.5, 4.2, 6.0, 3.8, 5.5, 3.2, 5.2, 3.5, 5.2, 3.0],
    [1.2, 7.9, 9.4, 11.3, 6.2, 8.0, 7.2, 9.5, 5.8, 8.5, 7.0, 9.5, 6.5, 8.5, 6.0, 8.0, 6.5, 8.5, 5.5, 8.0, 6.0, 8.5, 6.0, 8.0, 5.5, 7.5, 5.5, 7.0, 5.0, 6.5, 5.5],
    [0.9, 7.3, 8.8, 10.5, 5.2, 7.0, 6.3, 8.3, 4.5, 7.2, 5.5, 8.0, 4.5, 6.5, 3.5, 5.5, 3.5, 5.5, 2.5, 4.5, 2.0, 4.0, 1.5, 4.5, 2.0, 4.0, 1.5, 3.5, 1.0, 3.5, 1.0],
    [1.0, 7.6, 9.1, 10.8, 5.4, 7.4, 6.8, 8.2, 4.2, 7.8, 6.5, 9.2, 5.5, 7.2, 3.5, 6.5, 5.0, 6.0, 2.0, 5.5, 3.5, 4.0, 2.5, 5.5, 3.0, 3.5, 1.0, 4.5, 2.5, 2.5, 0.5],
    [1.1, 7.7, 9.3, 11.1, 5.9, 7.0, 6.0, 8.8, 5.5, 6.8, 5.2, 8.8, 5.8, 6.2, 4.5, 5.0, 3.8, 6.8, 3.5, 4.2, 2.5, 5.5, 4.0, 4.0, 1.5, 5.0, 3.0, 3.0, 1.5, 4.5, 2.0],
    [0.9, 7.3, 8.8, 10.6, 5.3, 7.6, 7.2, 8.0, 4.0, 7.0, 6.5, 7.8, 4.2, 7.5, 4.5, 6.2, 4.2, 5.0, 2.5, 5.8, 3.5, 5.8, 2.8, 5.5, 2.8, 4.8, 2.5, 4.2, 2.8, 3.0, 2.0],
    [1.0, 7.5, 9.0, 10.7, 5.0, 6.8, 5.8, 8.2, 4.3, 6.5, 5.0, 7.2, 4.0, 6.0, 3.2, 4.8, 3.2, 4.5, 1.8, 3.8, 1.5, 3.0, 1.0, 3.5, 0.5, 3.0, 0.5, 2.5, -0.5, 2.0, -0.5],
    [1.1, 7.7, 9.2, 11.0, 5.9, 7.5, 6.9, 9.0, 5.3, 7.7, 6.2, 8.7, 5.5, 7.2, 4.6, 6.5, 5.0, 6.5, 3.8, 5.8, 3.8, 6.0, 4.0, 5.5, 3.2, 5.0, 2.8, 4.8, 3.0, 4.2, 2.5],
    [1.0, 7.4, 8.9, 10.5, 5.4, 7.0, 6.4, 8.4, 4.6, 7.1, 5.6, 8.0, 4.8, 6.6, 3.8, 5.6, 4.2, 5.4, 2.8, 4.6, 2.6, 4.4, 2.6, 4.2, 2.0, 3.6, 1.4, 3.2, 1.6, 2.8, 1.0],
    [1.2, 7.8, 9.4, 11.2, 6.0, 7.7, 7.0, 9.0, 5.5, 8.0, 6.8, 9.0, 6.2, 8.0, 5.5, 7.5, 6.0, 7.5, 5.0, 7.0, 5.5, 7.5, 6.0, 7.0, 5.0, 7.0, 4.5, 6.5, 5.0, 6.0, 4.0],
    [0.8, 7.1, 8.6, 10.3, 4.8, 6.3, 5.5, 7.5, 3.5, 6.0, 4.0, 6.5, 2.5, 4.5, 1.5, 3.5, 1.0, 3.0, -0.5, 2.0, -1.0, 1.5, -1.5, 1.0, -1.5, 1.5, -2.0, 1.0, -2.5, 0.5, -3.5],
    [1.0, 7.5, 9.0, 10.8, 5.6, 7.2, 6.5, 8.7, 5.0, 7.5, 5.5, 8.5, 5.2, 7.0, 4.2, 6.0, 4.8, 6.2, 3.2, 5.5, 3.2, 5.5, 3.8, 5.2, 3.0, 5.5, 2.5, 5.0, 2.5, 4.5, 2.0],
    [0.9, 7.2, 8.7, 10.4, 5.1, 6.6, 6.0, 7.8, 4.2, 6.5, 4.8, 7.0, 4.0, 5.8, 3.0, 4.5, 2.5, 4.5, 1.0, 3.0, 0.5, 2.5, 0.0, 2.0, -1.0, 1.0, -2.0, 0.5, -1.5, 0.0, -2.5],
    [1.1, 7.6, 9.2, 11.0, 5.7, 7.4, 6.7, 8.9, 5.1, 7.6, 6.1, 8.6, 5.3, 7.2, 4.4, 6.3, 4.9, 6.3, 3.5, 5.8, 3.6, 5.9, 3.9, 5.6, 3.2, 5.2, 2.8, 4.9, 3.0, 4.6, 2.4],
]
T2M_ZERO = [0]

# ---------------- Sneeuwval / 6 uur (cm) ----------------
SNW_CTRL = [0, 0, 0, 0, 0, 0, 0, 0, 0, 0, 0, 0, 0, 0, 0, 0, 0, 0, 0, 0, 0, 0, 0, 0.05, 0.1, 0.05, 0.2, 0.42, 0.02, 0, 0]
SNW_OPER = [0, 0, 0, 0, 0, 0, 0, 0, 0, 0, 0, 0, 0, 0, 0, 0, 0, 0, 0, 0, 0]
SNW_MEAN = [0, 0, 0, 0, 0, 0, 0, 0, 0, 0, 0, 0, 0, 0, 0.01, 0.03, 0.02, 0.04, 0.05, 0.06, 0.05, 0.05,
            0.04, 0.05, 0.06, 0.07, 0.08, 0.1, 0.06, 0.05, 0.04]
SNW_MEMBERS = [
    [0, 0, 0, 0, 0, 0, 0, 0, 0, 0, 0, 0, 0, 0, 0.1, 0.8, 0.05, 0, 0, 0, 0.1, 0, 0, 0, 0, 0, 0, 0, 0, 0, 0],
    [0, 0, 0, 0, 0, 0, 0, 0, 0, 0, 0, 0, 0, 0, 0, 0, 0, 0, 0.4, 3.1, 0.3, 0, 0, 0, 0, 0, 0.2, 0.5, 0, 0, 0],
    [0, 0, 0, 0, 0, 0, 0, 0, 0, 0, 0, 0, 0, 0, 0, 0, 0, 0.05, 0.1, 0.2, 0.6, 1.4, 0.2, 0, 0, 0, 0, 0, 0, 0, 0],
    [0, 0, 0, 0, 0, 0, 0, 0, 0, 0, 0, 0, 0, 0, 0, 0, 0, 0.1, 0, 0.5, 0.3, 0.8, 0.4, 0.1, 0.2, 0.4, 0.3, 0.6, 0.1, 0, 0],
    [0, 0, 0, 0, 0, 0, 0, 0, 0, 0, 0, 0, 0, 0, 0, 0, 0, 0, 0, 0, 0, 0, 0.1, 0.4, 1.2, 0.6, 0.2, 0, 0, 0, 0],
    [0, 0, 0, 0, 0, 0, 0, 0, 0, 0, 0, 0, 0, 0, 0, 0, 0, 0, 0, 0, 0, 0, 0, 0, 0.1, 0.3, 1.5, 0.4, 0, 0, 0.1],
    [0, 0, 0, 0, 0, 0, 0, 0, 0, 0, 0, 0, 0, 0, 0, 0, 0, 0, 0, 0, 0, 0, 0, 0, 0, 0.2, 0.4, 1.4, 1.2, 0.2, 0],
    [0, 0, 0, 0, 0, 0, 0, 0, 0, 0, 0, 0, 0, 0, 0, 0, 0, 0, 0, 0, 0, 0, 0, 0.1, 0.2, 0, 0.3, 0.5, 0.2, 1.9, 0.1],
    [0, 0, 0, 0, 0, 0, 0, 0, 0, 0, 0, 0, 0, 0, 0, 0, 0, 0, 0.2, 0.1, 0.5, 0.2, 0.4, 0, 0.2, 0.5, 0.6, 1.2, 0.3, 0.1, 0],
]

# ---------------- styling ----------------
GREEN = "#7db23e"
BAND = "rgba(125,178,62,0.38)"
CTRL_C = "#0000ff"
OPER_C = "#ff0000"
MEAN_C = "#8b0a0a"

PANELS = [
    dict(members=PR6_MEMBERS, ctrl=PR6_CTRL, oper=PR6_OPER, mean=PR6_MEAN, lo=PR6_CORE_LO, hi=PR6_CORE_HI,
         yr=[0, 20], dt=5, ylab="mm", lines=["De Bilt", "Neerslag/6 uur"], dotted=PR6_THRESH, dashed=[], thick=[]),
    dict(members=ACC_MEMBERS, ctrl=ACC_CTRL, oper=ACC_OPER, mean=ACC_MEAN, lo=ACC_CORE_LO, hi=ACC_CORE_HI,
         yr=[0, 90], dt=10, ylab="mm", lines=["De Bilt", "Accum Neerslag"], dotted=[], dashed=[], thick=[]),
    dict(members=WND_MEMBERS, ctrl=WND_CTRL, oper=WND_OPER, mean=WND_MEAN, lo=WND_CORE_LO, hi=WND_CORE_HI,
         yr=[0, 20], dt=5, ylab="m/s", lines=["De Bilt", "10m wind"], dotted=WND_THRESH, dashed=[], thick=[]),
    dict(members=GST_MEMBERS, ctrl=GST_CTRL, oper=GST_OPER, mean=GST_MEAN, lo=GST_CORE_LO, hi=GST_CORE_HI,
         yr=[0, 35], dt=5, ylab="m/s", lines=["De Bilt", "Windstoten"], dotted=GST_THRESH, dashed=GST_WARN, thick=[]),
    dict(members=T2M_MEMBERS, ctrl=T2M_CTRL, oper=T2M_OPER, mean=T2M_MEAN, lo=T2M_CORE_LO, hi=T2M_CORE_HI,
         yr=[-10, 20], dt=5, ylab="Celsius", lines=["De Bilt", "T2m"], dotted=[], dashed=[], thick=T2M_ZERO),
    dict(members=SNW_MEMBERS, ctrl=SNW_CTRL, oper=SNW_OPER, mean=SNW_MEAN, lo=None, hi=None,
         yr=[0, 5], dt=1, ylab="cm", lines=["De Bilt", "Sneeuwval/6 uur"], dotted=[], dashed=[], thick=[]),
]

COL_X = [(32, 358), (420, 746)]
COL_O = [0, 388]
ROW_Y = [(17, 156), (202, 341), (386, 524)]


def fx(x):
    return x / W


def fy(y):
    return 1 - y / H


fig = go.Figure()
shapes = []
annotations = []
layout_axes = {}

for k, p in enumerate(PANELS):
    n = k + 1
    col, row = k % 2, k // 2
    (xl, xr_), (yt, yb) = COL_X[col], ROW_Y[row]
    ox = COL_O[col]
    xref = "x" if n == 1 else f"x{n}"
    yref = "y" if n == 1 else f"y{n}"
    xkey = "xaxis" if n == 1 else f"xaxis{n}"
    ykey = "yaxis" if n == 1 else f"yaxis{n}"
    yref2, ykey2 = f"y{n + 6}", f"yaxis{n + 6}"
    xref2, xkey2 = f"x{n + 12}", f"xaxis{n + 12}"

    if p["lo"] is not None:
        assert len(p["lo"]) == len(T) and len(p["hi"]) == len(T)
        fig.add_trace(go.Scatter(x=T, y=p["lo"], xaxis=xref, yaxis=yref, mode="lines",
                                 line=dict(color="rgba(0,0,0,0)", width=0), showlegend=False, hoverinfo="skip"))
        fig.add_trace(go.Scatter(x=T, y=p["hi"], xaxis=xref, yaxis=yref, mode="lines", fill="tonexty",
                                 fillcolor=BAND, line=dict(color="rgba(0,0,0,0)", width=0),
                                 showlegend=False, hoverinfo="skip"))
    for m in p["members"]:
        assert len(m) == len(T)
        fig.add_trace(go.Scatter(x=T, y=m, xaxis=xref, yaxis=yref, mode="lines",
                                 line=dict(color=GREEN, width=1.0), showlegend=False, hoverinfo="skip"))
    assert len(p["mean"]) == len(T) and len(p["ctrl"]) == len(T) and len(p["oper"]) == len(T_OPER)
    fig.add_trace(go.Scatter(x=T, y=p["mean"], xaxis=xref, yaxis=yref, mode="lines",
                             line=dict(color=MEAN_C, width=2.6, dash="dot"), showlegend=False, hoverinfo="skip"))
    fig.add_trace(go.Scatter(x=T, y=p["ctrl"], xaxis=xref, yaxis=yref, mode="lines",
                             line=dict(color=CTRL_C, width=1.5, dash="5px,3px"), showlegend=False, hoverinfo="skip"))
    fig.add_trace(go.Scatter(x=T_OPER, y=p["oper"], xaxis=xref, yaxis=yref, mode="lines",
                             line=dict(color=OPER_C, width=1.6), showlegend=False, hoverinfo="skip"))
    # carrier trace for the mirrored right axis and the "00" hour axis
    fig.add_trace(go.Scatter(x=[HOUR_TICKS[0]], y=[p["yr"][0]], xaxis=xref2, yaxis=yref2, mode="markers",
                             marker=dict(opacity=0), showlegend=False, hoverinfo="skip"))

    tickfont = dict(family=FONT, size=8.5, color="black")
    layout_axes[xkey] = dict(domain=[fx(xl), fx(xr_)], anchor=yref, range=[0, 360],
                             tickmode="array", tickvals=DAY_TICKS, ticktext=DAY_LABELS,
                             tickfont=dict(family=FONT, size=8, color="black"),
                             ticks="", showline=True, linecolor="black", linewidth=1,
                             showgrid=False, zeroline=False, fixedrange=True)
    layout_axes[xkey2] = dict(overlaying=xref, anchor=yref, side="bottom", range=[0, 360],
                              tickmode="array", tickvals=HOUR_TICKS, ticktext=HOUR_LABELS,
                              tickfont=dict(family=FONT, size=5.5, color="black"), ticks="",
                              showline=False, showgrid=False, zeroline=False, fixedrange=True)
    layout_axes[ykey] = dict(domain=[fy(yb), fy(yt)], anchor=xref, range=p["yr"],
                             tickmode="linear", tick0=p["yr"][0], dtick=p["dt"],
                             tickfont=tickfont, ticks="outside", ticklen=3, tickcolor="black",
                             showline=True, linecolor="black", linewidth=1,
                             showgrid=False, zeroline=False, fixedrange=True)
    layout_axes[ykey2] = dict(overlaying=yref, anchor=xref, side="right", range=p["yr"],
                              tickmode="linear", tick0=p["yr"][0], dtick=p["dt"],
                              tickfont=tickfont, ticks="outside", ticklen=3, tickcolor="#808080",
                              showline=True, linecolor="#808080", linewidth=2,
                              showgrid=False, zeroline=False, fixedrange=True)

    xdom = "x domain" if n == 1 else f"x{n} domain"
    for v in p["dotted"]:
        shapes.append(dict(type="line", xref=xdom, x0=0, x1=1, yref=yref, y0=v, y1=v, layer="below",
                           line=dict(color="black", width=1, dash="1px,2px")))
    for v in p["dashed"]:
        shapes.append(dict(type="line", xref=xdom, x0=0, x1=1, yref=yref, y0=v, y1=v, layer="below",
                           line=dict(color="#ff00ff", width=1.2, dash="4px,3px")))
    for v in p["thick"]:
        shapes.append(dict(type="line", xref=xdom, x0=0, x1=1, yref=yref, y0=v, y1=v, layer="above",
                           line=dict(color="black", width=2.5)))

    cx = (xl + xr_) / 2
    annotations.append(dict(x=fx(cx), y=fy(yt - 10), xref="paper", yref="paper", text="<b>" + TITLE + "</b>",
                            showarrow=False, font=dict(family=FONT, size=10.3, color="black"),
                            xanchor="center", yanchor="middle"))
    annotations.append(dict(x=fx(ox + 12), y=fy((yt + yb) / 2 - 2), xref="paper", yref="paper",
                            text="<b>" + p["ylab"] + "</b>", textangle=-90, showarrow=False,
                            font=dict(family=FONT, size=11, color="black"), xanchor="center", yanchor="middle"))
    annotations.append(dict(x=fx(cx), y=fy(yb + 19.5), xref="paper", yref="paper", text="<b>Dag</b>",
                            showarrow=False, font=dict(family=FONT, size=11, color="black"),
                            xanchor="center", yanchor="middle"))
    annotations.append(dict(x=fx(ox + 342), y=fy(yb + 19), xref="paper", yref="paper",
                            text="<b>Bron:  ECMWF/KNMI</b>", showarrow=False,
                            font=dict(family=FONT, size=6.5, color="#0000ee"), xanchor="center", yanchor="middle"))
    for j, s in enumerate(p["lines"]):
        annotations.append(dict(x=fx(ox + 322), y=fy(yt + 7 + 11 * j), xref="paper", yref="paper", text=s,
                                showarrow=False, font=dict(family=FONT, size=9.5, color="black"),
                                xanchor="center", yanchor="middle"))
    leg = [("Control", CTRL_C, 1.5, "4px,2px"), ("Oper", OPER_C, 1.2, "solid"), ("Ens mn", MEAN_C, 2.5, "dot")]
    for j, (lab, c, w, d) in enumerate(leg):
        yy = yt + 8 + 6.5 * j
        shapes.append(dict(type="line", xref="paper", yref="paper", x0=fx(ox + 35), x1=fx(ox + 57),
                           y0=fy(yy), y1=fy(yy), line=dict(color=c, width=w, dash=d)))
        annotations.append(dict(x=fx(ox + 79), y=fy(yy), xref="paper", yref="paper", text=lab,
                                showarrow=False, font=dict(family=FONT, size=6.5, color="#222"),
                                xanchor="center", yanchor="middle"))

# panel separators and frame
shapes.append(dict(type="line", xref="paper", yref="paper", x0=fx(389), x1=fx(389), y0=0, y1=1,
                   line=dict(color="#3030ff", width=1.5)))
for yy in (184, 368):
    shapes.append(dict(type="line", xref="paper", yref="paper", x0=0, x1=1, y0=fy(yy), y1=fy(yy),
                       line=dict(color="#3030ff", width=1.5)))
shapes.append(dict(type="rect", xref="paper", yref="paper", x0=0, x1=1, y0=0, y1=1,
                   line=dict(color="#b0b0f4", width=3)))

fig.update_layout(width=W, height=H, margin=dict(l=0, r=0, t=0, b=0), autosize=False,
                  paper_bgcolor="white", plot_bgcolor="white", showlegend=False,
                  font=dict(family=FONT, size=8, color="black"),
                  shapes=shapes, annotations=annotations, **layout_axes)

fig.write_html("out.html", config={"displayModeBar": False},
               post_script="document.body.style.margin='0px';document.body.style.overflow='hidden';")
